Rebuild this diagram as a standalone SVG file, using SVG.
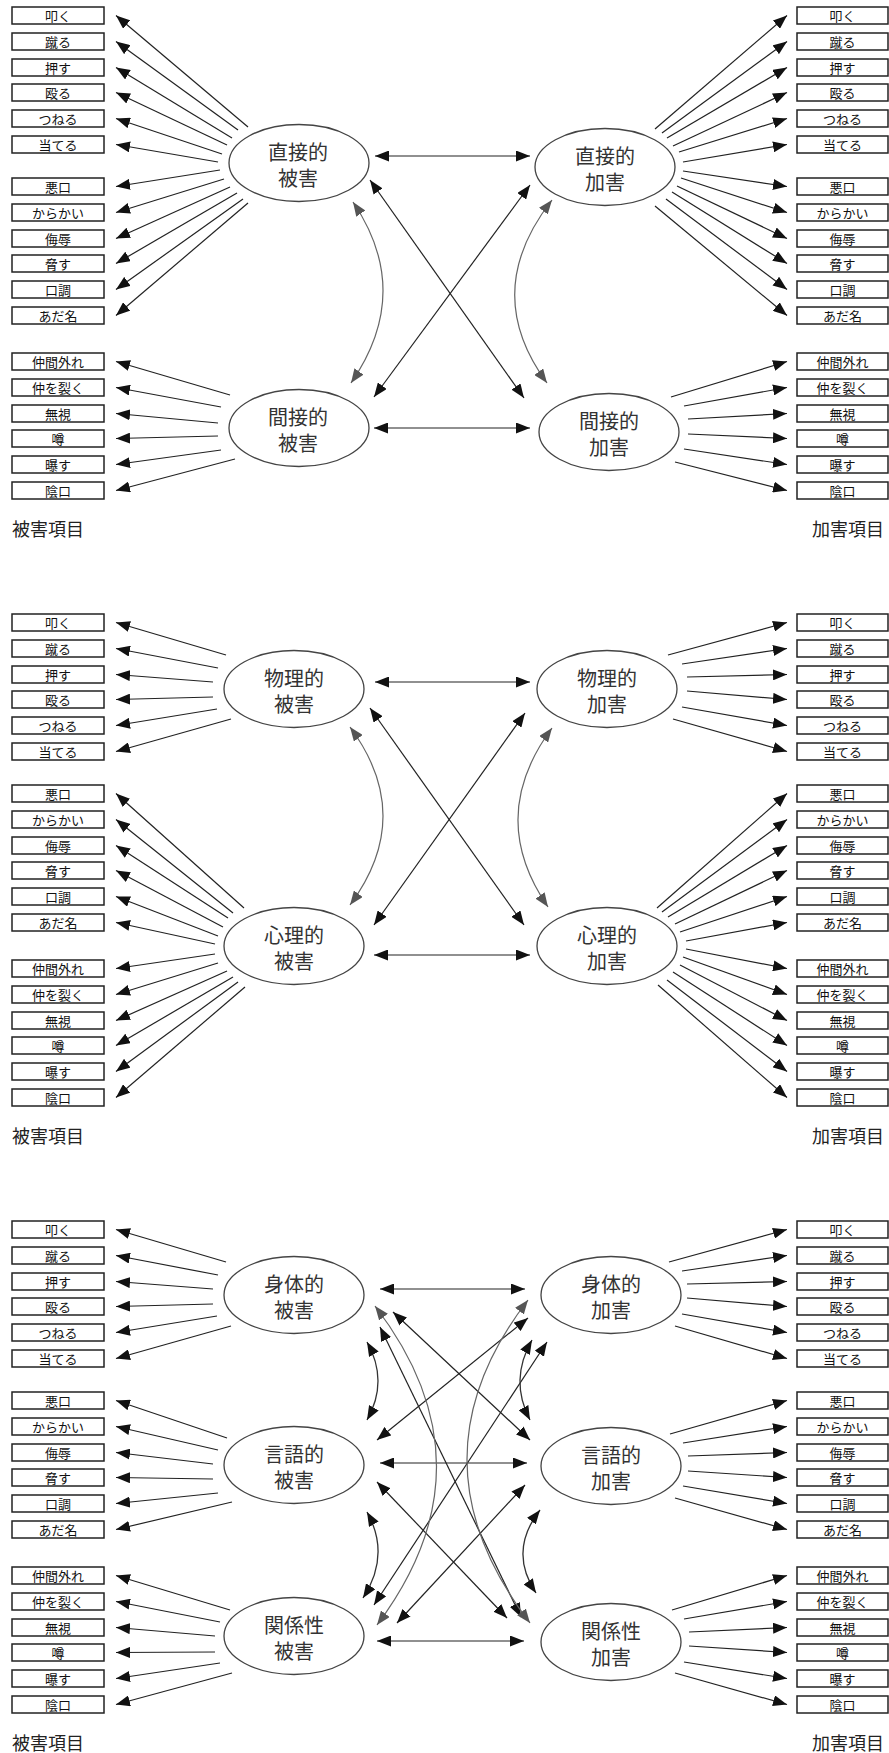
<svg xmlns="http://www.w3.org/2000/svg" width="889" height="1753" viewBox="0 0 889 1753">
<style>
  .box{fill:#fff;stroke:#222;stroke-width:1.5}
  .bt{font-family:"Noto Sans CJK JP","Noto Sans CJK SC",sans-serif;font-size:13px;fill:#111;text-anchor:middle;dominant-baseline:central}
  .node{fill:#fff;stroke:#444;stroke-width:1.3}
  .nt{font-family:"Noto Sans CJK JP","Noto Sans CJK SC",sans-serif;font-size:20px;fill:#333;text-anchor:middle;dominant-baseline:central}
  .cap{font-family:"Noto Sans CJK JP","Noto Sans CJK SC",sans-serif;font-size:18px;fill:#222;dominant-baseline:central}
  .ar{fill:none;stroke:#222;stroke-width:1.2;marker-end:url(#ah)}
  .dbl{fill:none;stroke:#222;stroke-width:1.2;marker-start:url(#ah);marker-end:url(#ah)}
  .cov{fill:none;stroke:#666;stroke-width:1.2;marker-start:url(#ahg);marker-end:url(#ahg)}
  .covd{fill:none;stroke:#333;stroke-width:1.3;marker-start:url(#ah);marker-end:url(#ah)}
</style>
<defs>
  <marker id="ah" viewBox="0 0 14 11" refX="14" refY="5.5" markerWidth="14" markerHeight="11" markerUnits="userSpaceOnUse" orient="auto-start-reverse">
    <path d="M0,0 L14,5.5 L0,11 z" fill="#111"/>
  </marker>
  <marker id="ahg" viewBox="0 0 14 11" refX="14" refY="5.5" markerWidth="14" markerHeight="11" markerUnits="userSpaceOnUse" orient="auto-start-reverse">
    <path d="M0,0 L14,5.5 L0,11 z" fill="#555"/>
  </marker>
</defs>
<rect width="889" height="1753" fill="#fff"/>

<!-- ===== Panel 1: direct / indirect ===== -->
<g id="p1-items-victim">
  <g id="p1-v-tataku"><rect class="box" x="12" y="7" width="92" height="17"/><text class="bt" x="58" y="15.5">叩く</text></g>
  <g id="p1-v-keru"><rect class="box" x="12" y="33" width="92" height="17"/><text class="bt" x="58" y="41.5">蹴る</text></g>
  <g id="p1-v-osu"><rect class="box" x="12" y="59" width="92" height="17"/><text class="bt" x="58" y="67.5">押す</text></g>
  <g id="p1-v-naguru"><rect class="box" x="12" y="84" width="92" height="17"/><text class="bt" x="58" y="92.5">殴る</text></g>
  <g id="p1-v-tsuneru"><rect class="box" x="12" y="110" width="92" height="17"/><text class="bt" x="58" y="118.5">つねる</text></g>
  <g id="p1-v-ateru"><rect class="box" x="12" y="136" width="92" height="17"/><text class="bt" x="58" y="144.5">当てる</text></g>
  <g id="p1-v-warukuchi"><rect class="box" x="12" y="178" width="92" height="17"/><text class="bt" x="58" y="186.5">悪口</text></g>
  <g id="p1-v-karakai"><rect class="box" x="12" y="204" width="92" height="17"/><text class="bt" x="58" y="212.5">からかい</text></g>
  <g id="p1-v-bujoku"><rect class="box" x="12" y="230" width="92" height="17"/><text class="bt" x="58" y="238.5">侮辱</text></g>
  <g id="p1-v-odosu"><rect class="box" x="12" y="255" width="92" height="17"/><text class="bt" x="58" y="263.5">脅す</text></g>
  <g id="p1-v-kuchou"><rect class="box" x="12" y="281" width="92" height="17"/><text class="bt" x="58" y="289.5">口調</text></g>
  <g id="p1-v-adana"><rect class="box" x="12" y="307" width="92" height="17"/><text class="bt" x="58" y="315.5">あだ名</text></g>
  <g id="p1-v-nakamahazure"><rect class="box" x="12" y="353" width="92" height="17"/><text class="bt" x="58" y="361.5">仲間外れ</text></g>
  <g id="p1-v-nakawosaku"><rect class="box" x="12" y="379" width="92" height="17"/><text class="bt" x="58" y="387.5">仲を裂く</text></g>
  <g id="p1-v-mushi"><rect class="box" x="12" y="405" width="92" height="17"/><text class="bt" x="58" y="413.5">無視</text></g>
  <g id="p1-v-uwasa"><rect class="box" x="12" y="430" width="92" height="17"/><text class="bt" x="58" y="438.5">噂</text></g>
  <g id="p1-v-sarasu"><rect class="box" x="12" y="456" width="92" height="17"/><text class="bt" x="58" y="464.5">曝す</text></g>
  <g id="p1-v-kageguchi"><rect class="box" x="12" y="482" width="92" height="17"/><text class="bt" x="58" y="490.5">陰口</text></g>
</g>
<g id="p1-items-perp">
  <g id="p1-p-tataku"><rect class="box" x="797" y="7" width="91" height="17"/><text class="bt" x="842.5" y="15.5">叩く</text></g>
  <g id="p1-p-keru"><rect class="box" x="797" y="33" width="91" height="17"/><text class="bt" x="842.5" y="41.5">蹴る</text></g>
  <g id="p1-p-osu"><rect class="box" x="797" y="59" width="91" height="17"/><text class="bt" x="842.5" y="67.5">押す</text></g>
  <g id="p1-p-naguru"><rect class="box" x="797" y="84" width="91" height="17"/><text class="bt" x="842.5" y="92.5">殴る</text></g>
  <g id="p1-p-tsuneru"><rect class="box" x="797" y="110" width="91" height="17"/><text class="bt" x="842.5" y="118.5">つねる</text></g>
  <g id="p1-p-ateru"><rect class="box" x="797" y="136" width="91" height="17"/><text class="bt" x="842.5" y="144.5">当てる</text></g>
  <g id="p1-p-warukuchi"><rect class="box" x="797" y="178" width="91" height="17"/><text class="bt" x="842.5" y="186.5">悪口</text></g>
  <g id="p1-p-karakai"><rect class="box" x="797" y="204" width="91" height="17"/><text class="bt" x="842.5" y="212.5">からかい</text></g>
  <g id="p1-p-bujoku"><rect class="box" x="797" y="230" width="91" height="17"/><text class="bt" x="842.5" y="238.5">侮辱</text></g>
  <g id="p1-p-odosu"><rect class="box" x="797" y="255" width="91" height="17"/><text class="bt" x="842.5" y="263.5">脅す</text></g>
  <g id="p1-p-kuchou"><rect class="box" x="797" y="281" width="91" height="17"/><text class="bt" x="842.5" y="289.5">口調</text></g>
  <g id="p1-p-adana"><rect class="box" x="797" y="307" width="91" height="17"/><text class="bt" x="842.5" y="315.5">あだ名</text></g>
  <g id="p1-p-nakamahazure"><rect class="box" x="797" y="353" width="91" height="17"/><text class="bt" x="842.5" y="361.5">仲間外れ</text></g>
  <g id="p1-p-nakawosaku"><rect class="box" x="797" y="379" width="91" height="17"/><text class="bt" x="842.5" y="387.5">仲を裂く</text></g>
  <g id="p1-p-mushi"><rect class="box" x="797" y="405" width="91" height="17"/><text class="bt" x="842.5" y="413.5">無視</text></g>
  <g id="p1-p-uwasa"><rect class="box" x="797" y="430" width="91" height="17"/><text class="bt" x="842.5" y="438.5">噂</text></g>
  <g id="p1-p-sarasu"><rect class="box" x="797" y="456" width="91" height="17"/><text class="bt" x="842.5" y="464.5">曝す</text></g>
  <g id="p1-p-kageguchi"><rect class="box" x="797" y="482" width="91" height="17"/><text class="bt" x="842.5" y="490.5">陰口</text></g>
</g>
<g id="p1-direct-victim"><ellipse class="node" cx="299" cy="163" rx="70" ry="38.5"/><text class="nt" x="298" y="151">直接的</text><text class="nt" x="298" y="177">被害</text></g>
<g id="p1-direct-perp"><ellipse class="node" cx="605" cy="167" rx="70" ry="38.5"/><text class="nt" x="605" y="155">直接的</text><text class="nt" x="605" y="181">加害</text></g>
<g id="p1-indirect-victim"><ellipse class="node" cx="299" cy="428" rx="70" ry="38.5"/><text class="nt" x="298" y="416">間接的</text><text class="nt" x="298" y="442">被害</text></g>
<g id="p1-indirect-perp"><ellipse class="node" cx="609" cy="432" rx="70" ry="38.5"/><text class="nt" x="609" y="420">間接的</text><text class="nt" x="609" y="446">加害</text></g>
<text class="cap" x="12" y="528">被害項目</text>
<text class="cap" x="884" y="528" text-anchor="end">加害項目</text>

<g id="p1-connectors">
  <path class="ar" d="M248,127 L116,15.5"/>
  <path class="ar" d="M238,130 L116,41.5"/>
  <path class="ar" d="M232,138 L116,67.5"/>
  <path class="ar" d="M227,145 L116,92.5"/>
  <path class="ar" d="M222,154 L116,118.5"/>
  <path class="ar" d="M218,162 L116,144.5"/>
  <path class="ar" d="M220,170 L116,186.5"/>
  <path class="ar" d="M224,179 L116,212.5"/>
  <path class="ar" d="M230,187 L116,238.5"/>
  <path class="ar" d="M237,193 L116,263.5"/>
  <path class="ar" d="M243,199 L116,289.5"/>
  <path class="ar" d="M248,203 L116,315.5"/>
  <path class="ar" d="M655,129 L787,15.5"/>
  <path class="ar" d="M662,133 L787,41.5"/>
  <path class="ar" d="M667,138 L787,67.5"/>
  <path class="ar" d="M673,146 L787,92.5"/>
  <path class="ar" d="M679,152 L787,118.5"/>
  <path class="ar" d="M683,162 L787,144.5"/>
  <path class="ar" d="M683,171 L787,186.5"/>
  <path class="ar" d="M681,178 L787,212.5"/>
  <path class="ar" d="M677,186 L787,238.5"/>
  <path class="ar" d="M672,192 L787,263.5"/>
  <path class="ar" d="M666,199 L787,289.5"/>
  <path class="ar" d="M655,206 L787,315.5"/>
  <path class="ar" d="M230,395 L116,361.5"/>
  <path class="ar" d="M221,407 L116,387.5"/>
  <path class="ar" d="M218,423 L116,413.5"/>
  <path class="ar" d="M218,436 L116,438.5"/>
  <path class="ar" d="M221,450 L116,464.5"/>
  <path class="ar" d="M235,459 L116,490.5"/>
  <path class="ar" d="M671,397 L787,361.5"/>
  <path class="ar" d="M684,406 L787,387.5"/>
  <path class="ar" d="M688,419 L787,413.5"/>
  <path class="ar" d="M688,434 L787,438.5"/>
  <path class="ar" d="M684,449 L787,464.5"/>
  <path class="ar" d="M675,462 L787,490.5"/>
  <path class="dbl" d="M375,156 L530,156"/>
  <path class="dbl" d="M374,428 L530,428"/>
  <path class="dbl" d="M370,180 L524,398"/>
  <path class="dbl" d="M530,185 L374,397"/>
  <path class="cov" d="M353,202 Q414,292 351,383"/>
  <path class="cov" d="M552,200 Q480,292 547,383"/>
</g>

<!-- ===== Panel 2: physical / psychological ===== -->
<g id="p2-items-victim">
  <g id="p2-v-tataku"><rect class="box" x="12" y="614" width="92" height="17"/><text class="bt" x="58" y="622.5">叩く</text></g>
  <g id="p2-v-keru"><rect class="box" x="12" y="640" width="92" height="17"/><text class="bt" x="58" y="648.5">蹴る</text></g>
  <g id="p2-v-osu"><rect class="box" x="12" y="666" width="92" height="17"/><text class="bt" x="58" y="674.5">押す</text></g>
  <g id="p2-v-naguru"><rect class="box" x="12" y="691" width="92" height="17"/><text class="bt" x="58" y="699.5">殴る</text></g>
  <g id="p2-v-tsuneru"><rect class="box" x="12" y="717" width="92" height="17"/><text class="bt" x="58" y="725.5">つねる</text></g>
  <g id="p2-v-ateru"><rect class="box" x="12" y="743" width="92" height="17"/><text class="bt" x="58" y="751.5">当てる</text></g>
  <g id="p2-v-warukuchi"><rect class="box" x="12" y="785" width="92" height="17"/><text class="bt" x="58" y="793.5">悪口</text></g>
  <g id="p2-v-karakai"><rect class="box" x="12" y="811" width="92" height="17"/><text class="bt" x="58" y="819.5">からかい</text></g>
  <g id="p2-v-bujoku"><rect class="box" x="12" y="837" width="92" height="17"/><text class="bt" x="58" y="845.5">侮辱</text></g>
  <g id="p2-v-odosu"><rect class="box" x="12" y="862" width="92" height="17"/><text class="bt" x="58" y="870.5">脅す</text></g>
  <g id="p2-v-kuchou"><rect class="box" x="12" y="888" width="92" height="17"/><text class="bt" x="58" y="896.5">口調</text></g>
  <g id="p2-v-adana"><rect class="box" x="12" y="914" width="92" height="17"/><text class="bt" x="58" y="922.5">あだ名</text></g>
  <g id="p2-v-nakamahazure"><rect class="box" x="12" y="960" width="92" height="17"/><text class="bt" x="58" y="968.5">仲間外れ</text></g>
  <g id="p2-v-nakawosaku"><rect class="box" x="12" y="986" width="92" height="17"/><text class="bt" x="58" y="994.5">仲を裂く</text></g>
  <g id="p2-v-mushi"><rect class="box" x="12" y="1012" width="92" height="17"/><text class="bt" x="58" y="1020.5">無視</text></g>
  <g id="p2-v-uwasa"><rect class="box" x="12" y="1037" width="92" height="17"/><text class="bt" x="58" y="1045.5">噂</text></g>
  <g id="p2-v-sarasu"><rect class="box" x="12" y="1063" width="92" height="17"/><text class="bt" x="58" y="1071.5">曝す</text></g>
  <g id="p2-v-kageguchi"><rect class="box" x="12" y="1089" width="92" height="17"/><text class="bt" x="58" y="1097.5">陰口</text></g>
</g>
<g id="p2-items-perp">
  <g id="p2-p-tataku"><rect class="box" x="797" y="614" width="91" height="17"/><text class="bt" x="842.5" y="622.5">叩く</text></g>
  <g id="p2-p-keru"><rect class="box" x="797" y="640" width="91" height="17"/><text class="bt" x="842.5" y="648.5">蹴る</text></g>
  <g id="p2-p-osu"><rect class="box" x="797" y="666" width="91" height="17"/><text class="bt" x="842.5" y="674.5">押す</text></g>
  <g id="p2-p-naguru"><rect class="box" x="797" y="691" width="91" height="17"/><text class="bt" x="842.5" y="699.5">殴る</text></g>
  <g id="p2-p-tsuneru"><rect class="box" x="797" y="717" width="91" height="17"/><text class="bt" x="842.5" y="725.5">つねる</text></g>
  <g id="p2-p-ateru"><rect class="box" x="797" y="743" width="91" height="17"/><text class="bt" x="842.5" y="751.5">当てる</text></g>
  <g id="p2-p-warukuchi"><rect class="box" x="797" y="785" width="91" height="17"/><text class="bt" x="842.5" y="793.5">悪口</text></g>
  <g id="p2-p-karakai"><rect class="box" x="797" y="811" width="91" height="17"/><text class="bt" x="842.5" y="819.5">からかい</text></g>
  <g id="p2-p-bujoku"><rect class="box" x="797" y="837" width="91" height="17"/><text class="bt" x="842.5" y="845.5">侮辱</text></g>
  <g id="p2-p-odosu"><rect class="box" x="797" y="862" width="91" height="17"/><text class="bt" x="842.5" y="870.5">脅す</text></g>
  <g id="p2-p-kuchou"><rect class="box" x="797" y="888" width="91" height="17"/><text class="bt" x="842.5" y="896.5">口調</text></g>
  <g id="p2-p-adana"><rect class="box" x="797" y="914" width="91" height="17"/><text class="bt" x="842.5" y="922.5">あだ名</text></g>
  <g id="p2-p-nakamahazure"><rect class="box" x="797" y="960" width="91" height="17"/><text class="bt" x="842.5" y="968.5">仲間外れ</text></g>
  <g id="p2-p-nakawosaku"><rect class="box" x="797" y="986" width="91" height="17"/><text class="bt" x="842.5" y="994.5">仲を裂く</text></g>
  <g id="p2-p-mushi"><rect class="box" x="797" y="1012" width="91" height="17"/><text class="bt" x="842.5" y="1020.5">無視</text></g>
  <g id="p2-p-uwasa"><rect class="box" x="797" y="1037" width="91" height="17"/><text class="bt" x="842.5" y="1045.5">噂</text></g>
  <g id="p2-p-sarasu"><rect class="box" x="797" y="1063" width="91" height="17"/><text class="bt" x="842.5" y="1071.5">曝す</text></g>
  <g id="p2-p-kageguchi"><rect class="box" x="797" y="1089" width="91" height="17"/><text class="bt" x="842.5" y="1097.5">陰口</text></g>
</g>
<g id="p2-physical-victim"><ellipse class="node" cx="294" cy="689" rx="70" ry="38.5"/><text class="nt" x="294" y="677">物理的</text><text class="nt" x="294" y="703">被害</text></g>
<g id="p2-physical-perp"><ellipse class="node" cx="607" cy="689" rx="70" ry="38.5"/><text class="nt" x="607" y="677">物理的</text><text class="nt" x="607" y="703">加害</text></g>
<g id="p2-psych-victim"><ellipse class="node" cx="294" cy="946" rx="70" ry="38.5"/><text class="nt" x="294" y="934">心理的</text><text class="nt" x="294" y="960">被害</text></g>
<g id="p2-psych-perp"><ellipse class="node" cx="607" cy="946" rx="70" ry="38.5"/><text class="nt" x="607" y="934">心理的</text><text class="nt" x="607" y="960">加害</text></g>
<text class="cap" x="12" y="1135">被害項目</text>
<text class="cap" x="884" y="1135" text-anchor="end">加害項目</text>

<g id="p2-connectors">
  <path class="ar" d="M226,655 L116,622.5"/>
  <path class="ar" d="M218,668 L116,648.5"/>
  <path class="ar" d="M213,682 L116,674.5"/>
  <path class="ar" d="M213,697 L116,699.5"/>
  <path class="ar" d="M217,709 L116,725.5"/>
  <path class="ar" d="M231,719 L116,751.5"/>
  <path class="ar" d="M668,655 L787,622.5"/>
  <path class="ar" d="M682,664 L787,648.5"/>
  <path class="ar" d="M687,677 L787,674.5"/>
  <path class="ar" d="M687,691 L787,699.5"/>
  <path class="ar" d="M682,707 L787,725.5"/>
  <path class="ar" d="M673,719 L787,751.5"/>
  <path class="ar" d="M244,908 L116,793.5"/>
  <path class="ar" d="M233,913 L116,819.5"/>
  <path class="ar" d="M228,918 L116,845.5"/>
  <path class="ar" d="M223,927 L116,870.5"/>
  <path class="ar" d="M218,936 L116,896.5"/>
  <path class="ar" d="M215,944 L116,922.5"/>
  <path class="ar" d="M215,954 L116,968.5"/>
  <path class="ar" d="M218,963 L116,994.5"/>
  <path class="ar" d="M227,971 L116,1020.5"/>
  <path class="ar" d="M233,977 L116,1045.5"/>
  <path class="ar" d="M238,982 L116,1071.5"/>
  <path class="ar" d="M245,987 L116,1097.5"/>
  <path class="ar" d="M657,908 L787,793.5"/>
  <path class="ar" d="M662,912 L787,819.5"/>
  <path class="ar" d="M668,917 L787,845.5"/>
  <path class="ar" d="M675,924 L787,870.5"/>
  <path class="ar" d="M680,932 L787,896.5"/>
  <path class="ar" d="M686,941 L787,922.5"/>
  <path class="ar" d="M686,949 L787,968.5"/>
  <path class="ar" d="M683,957 L787,994.5"/>
  <path class="ar" d="M680,965 L787,1020.5"/>
  <path class="ar" d="M673,972 L787,1045.5"/>
  <path class="ar" d="M667,980 L787,1071.5"/>
  <path class="ar" d="M658,985 L787,1097.5"/>
  <path class="dbl" d="M375,682 L530,682"/>
  <path class="dbl" d="M374,955 L530,955"/>
  <path class="dbl" d="M370,708 L524,925"/>
  <path class="dbl" d="M525,713 L374,925"/>
  <path class="cov" d="M350,727 Q416,816 350,905"/>
  <path class="cov" d="M552,728 Q486,817 548,907"/>
</g>

<!-- ===== Panel 3: bodily / verbal / relational ===== -->
<g id="p3-items-victim">
  <g id="p3-v-tataku"><rect class="box" x="12" y="1221" width="92" height="17"/><text class="bt" x="58" y="1229.5">叩く</text></g>
  <g id="p3-v-keru"><rect class="box" x="12" y="1247" width="92" height="17"/><text class="bt" x="58" y="1255.5">蹴る</text></g>
  <g id="p3-v-osu"><rect class="box" x="12" y="1273" width="92" height="17"/><text class="bt" x="58" y="1281.5">押す</text></g>
  <g id="p3-v-naguru"><rect class="box" x="12" y="1298" width="92" height="17"/><text class="bt" x="58" y="1306.5">殴る</text></g>
  <g id="p3-v-tsuneru"><rect class="box" x="12" y="1324" width="92" height="17"/><text class="bt" x="58" y="1332.5">つねる</text></g>
  <g id="p3-v-ateru"><rect class="box" x="12" y="1350" width="92" height="17"/><text class="bt" x="58" y="1358.5">当てる</text></g>
  <g id="p3-v-warukuchi"><rect class="box" x="12" y="1392" width="92" height="17"/><text class="bt" x="58" y="1400.5">悪口</text></g>
  <g id="p3-v-karakai"><rect class="box" x="12" y="1418" width="92" height="17"/><text class="bt" x="58" y="1426.5">からかい</text></g>
  <g id="p3-v-bujoku"><rect class="box" x="12" y="1444" width="92" height="17"/><text class="bt" x="58" y="1452.5">侮辱</text></g>
  <g id="p3-v-odosu"><rect class="box" x="12" y="1469" width="92" height="17"/><text class="bt" x="58" y="1477.5">脅す</text></g>
  <g id="p3-v-kuchou"><rect class="box" x="12" y="1495" width="92" height="17"/><text class="bt" x="58" y="1503.5">口調</text></g>
  <g id="p3-v-adana"><rect class="box" x="12" y="1521" width="92" height="17"/><text class="bt" x="58" y="1529.5">あだ名</text></g>
  <g id="p3-v-nakamahazure"><rect class="box" x="12" y="1567" width="92" height="17"/><text class="bt" x="58" y="1575.5">仲間外れ</text></g>
  <g id="p3-v-nakawosaku"><rect class="box" x="12" y="1593" width="92" height="17"/><text class="bt" x="58" y="1601.5">仲を裂く</text></g>
  <g id="p3-v-mushi"><rect class="box" x="12" y="1619" width="92" height="17"/><text class="bt" x="58" y="1627.5">無視</text></g>
  <g id="p3-v-uwasa"><rect class="box" x="12" y="1644" width="92" height="17"/><text class="bt" x="58" y="1652.5">噂</text></g>
  <g id="p3-v-sarasu"><rect class="box" x="12" y="1670" width="92" height="17"/><text class="bt" x="58" y="1678.5">曝す</text></g>
  <g id="p3-v-kageguchi"><rect class="box" x="12" y="1696" width="92" height="17"/><text class="bt" x="58" y="1704.5">陰口</text></g>
</g>
<g id="p3-items-perp">
  <g id="p3-p-tataku"><rect class="box" x="797" y="1221" width="91" height="17"/><text class="bt" x="842.5" y="1229.5">叩く</text></g>
  <g id="p3-p-keru"><rect class="box" x="797" y="1247" width="91" height="17"/><text class="bt" x="842.5" y="1255.5">蹴る</text></g>
  <g id="p3-p-osu"><rect class="box" x="797" y="1273" width="91" height="17"/><text class="bt" x="842.5" y="1281.5">押す</text></g>
  <g id="p3-p-naguru"><rect class="box" x="797" y="1298" width="91" height="17"/><text class="bt" x="842.5" y="1306.5">殴る</text></g>
  <g id="p3-p-tsuneru"><rect class="box" x="797" y="1324" width="91" height="17"/><text class="bt" x="842.5" y="1332.5">つねる</text></g>
  <g id="p3-p-ateru"><rect class="box" x="797" y="1350" width="91" height="17"/><text class="bt" x="842.5" y="1358.5">当てる</text></g>
  <g id="p3-p-warukuchi"><rect class="box" x="797" y="1392" width="91" height="17"/><text class="bt" x="842.5" y="1400.5">悪口</text></g>
  <g id="p3-p-karakai"><rect class="box" x="797" y="1418" width="91" height="17"/><text class="bt" x="842.5" y="1426.5">からかい</text></g>
  <g id="p3-p-bujoku"><rect class="box" x="797" y="1444" width="91" height="17"/><text class="bt" x="842.5" y="1452.5">侮辱</text></g>
  <g id="p3-p-odosu"><rect class="box" x="797" y="1469" width="91" height="17"/><text class="bt" x="842.5" y="1477.5">脅す</text></g>
  <g id="p3-p-kuchou"><rect class="box" x="797" y="1495" width="91" height="17"/><text class="bt" x="842.5" y="1503.5">口調</text></g>
  <g id="p3-p-adana"><rect class="box" x="797" y="1521" width="91" height="17"/><text class="bt" x="842.5" y="1529.5">あだ名</text></g>
  <g id="p3-p-nakamahazure"><rect class="box" x="797" y="1567" width="91" height="17"/><text class="bt" x="842.5" y="1575.5">仲間外れ</text></g>
  <g id="p3-p-nakawosaku"><rect class="box" x="797" y="1593" width="91" height="17"/><text class="bt" x="842.5" y="1601.5">仲を裂く</text></g>
  <g id="p3-p-mushi"><rect class="box" x="797" y="1619" width="91" height="17"/><text class="bt" x="842.5" y="1627.5">無視</text></g>
  <g id="p3-p-uwasa"><rect class="box" x="797" y="1644" width="91" height="17"/><text class="bt" x="842.5" y="1652.5">噂</text></g>
  <g id="p3-p-sarasu"><rect class="box" x="797" y="1670" width="91" height="17"/><text class="bt" x="842.5" y="1678.5">曝す</text></g>
  <g id="p3-p-kageguchi"><rect class="box" x="797" y="1696" width="91" height="17"/><text class="bt" x="842.5" y="1704.5">陰口</text></g>
</g>
<g id="p3-bodily-victim"><ellipse class="node" cx="294" cy="1295" rx="70" ry="38.5"/><text class="nt" x="294" y="1283">身体的</text><text class="nt" x="294" y="1309">被害</text></g>
<g id="p3-bodily-perp"><ellipse class="node" cx="611" cy="1295" rx="70" ry="38.5"/><text class="nt" x="611" y="1283">身体的</text><text class="nt" x="611" y="1309">加害</text></g>
<g id="p3-verbal-victim"><ellipse class="node" cx="294" cy="1465" rx="70" ry="38.5"/><text class="nt" x="294" y="1453">言語的</text><text class="nt" x="294" y="1479">被害</text></g>
<g id="p3-verbal-perp"><ellipse class="node" cx="611" cy="1466" rx="70" ry="38.5"/><text class="nt" x="611" y="1454">言語的</text><text class="nt" x="611" y="1480">加害</text></g>
<g id="p3-relational-victim"><ellipse class="node" cx="294" cy="1636" rx="70" ry="38.5"/><text class="nt" x="294" y="1624">関係性</text><text class="nt" x="294" y="1650">被害</text></g>
<g id="p3-relational-perp"><ellipse class="node" cx="611" cy="1642" rx="70" ry="38.5"/><text class="nt" x="611" y="1630">関係性</text><text class="nt" x="611" y="1656">加害</text></g>
<text class="cap" x="12" y="1742">被害項目</text>
<text class="cap" x="884" y="1742" text-anchor="end">加害項目</text>

<g id="p3-connectors">
  <path class="ar" d="M226,1262 L116,1229.5"/>
  <path class="ar" d="M218,1275 L116,1255.5"/>
  <path class="ar" d="M213,1289 L116,1281.5"/>
  <path class="ar" d="M213,1304 L116,1306.5"/>
  <path class="ar" d="M217,1316 L116,1332.5"/>
  <path class="ar" d="M231,1326 L116,1358.5"/>
  <path class="ar" d="M227,1438 L116,1400.5"/>
  <path class="ar" d="M218,1450 L116,1426.5"/>
  <path class="ar" d="M213,1464 L116,1452.5"/>
  <path class="ar" d="M213,1479 L116,1477.5"/>
  <path class="ar" d="M218,1493 L116,1503.5"/>
  <path class="ar" d="M232,1502 L116,1529.5"/>
  <path class="ar" d="M230,1610 L116,1575.5"/>
  <path class="ar" d="M220,1622 L116,1601.5"/>
  <path class="ar" d="M215,1636 L116,1627.5"/>
  <path class="ar" d="M215,1652 L116,1652.5"/>
  <path class="ar" d="M220,1663 L116,1678.5"/>
  <path class="ar" d="M232,1673 L116,1704.5"/>
  <path class="ar" d="M669,1262 L787,1229.5"/>
  <path class="ar" d="M682,1271 L787,1255.5"/>
  <path class="ar" d="M687,1284 L787,1281.5"/>
  <path class="ar" d="M687,1298 L787,1306.5"/>
  <path class="ar" d="M682,1314 L787,1332.5"/>
  <path class="ar" d="M675,1326 L787,1358.5"/>
  <path class="ar" d="M670,1434 L787,1400.5"/>
  <path class="ar" d="M683,1443 L787,1426.5"/>
  <path class="ar" d="M688,1456 L787,1452.5"/>
  <path class="ar" d="M688,1471 L787,1477.5"/>
  <path class="ar" d="M683,1486 L787,1503.5"/>
  <path class="ar" d="M675,1498 L787,1529.5"/>
  <path class="ar" d="M672,1610 L787,1575.5"/>
  <path class="ar" d="M684,1619 L787,1601.5"/>
  <path class="ar" d="M689,1632 L787,1627.5"/>
  <path class="ar" d="M689,1646 L787,1652.5"/>
  <path class="ar" d="M684,1662 L787,1678.5"/>
  <path class="ar" d="M675,1673 L787,1704.5"/>
  <path class="dbl" d="M380,1289 L525,1289"/>
  <path class="dbl" d="M380,1463 L527,1463"/>
  <path class="dbl" d="M377,1641 L524,1641"/>
  <path class="dbl" d="M393,1312 L530,1440"/>
  <path class="dbl" d="M380,1327 L521,1617"/>
  <path class="dbl" d="M528,1318 L377,1440"/>
  <path class="dbl" d="M547,1342 L374,1605"/>
  <path class="dbl" d="M377,1482 L507,1618"/>
  <path class="dbl" d="M525,1485 L397,1623"/>
  <path class="cov" d="M375,1306 Q497,1465 377,1625"/>
  <path class="cov" d="M528,1300 Q405,1460 530,1623"/>
  <path class="covd" d="M367,1342 Q389,1381 367,1420"/>
  <path class="covd" d="M367,1512 Q391,1555 363,1598"/>
  <path class="covd" d="M532,1340 Q509,1380 530,1420"/>
  <path class="covd" d="M540,1510 Q508,1551 536,1593"/>
</g>
</svg>
